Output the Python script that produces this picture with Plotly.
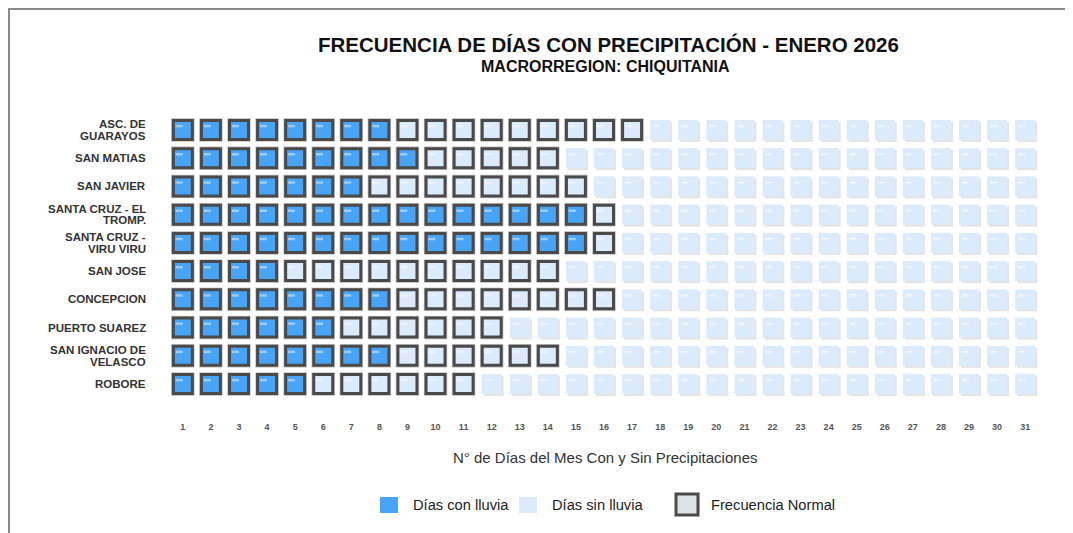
import plotly.graph_objects as go

# ---------------- data ----------------
stations = [
    "ASC. DE\nGUARAYOS",
    "SAN MATIAS",
    "SAN JAVIER",
    "SANTA CRUZ - EL\nTROMP.",
    "SANTA CRUZ -\nVIRU VIRU",
    "SAN JOSE",
    "CONCEPCION",
    "PUERTO SUAREZ",
    "SAN IGNACIO DE\nVELASCO",
    "ROBORE",
]
rain_days = [8, 9, 7, 15, 15, 4, 8, 6, 8, 5]
normal_days = [17, 14, 15, 16, 16, 14, 16, 12, 14, 11]
days = list(range(1, 32))
day_labels = [str(d) for d in days]

title_text = "FRECUENCIA DE DÍAS CON PRECIPITACIÓN - ENERO 2026"
subtitle_text = "MACRORREGION: CHIQUITANIA"
xaxis_title = "N° de Días del Mes Con y Sin Precipitaciones"
legend_labels = ["Días con lluvia", "Días sin lluvia", "Frecuencia Normal"]

# ---------------- layout constants ----------------
OX, OY = 8, 8            # page body margin
W, H = 1073 - OX, 533 - OY
L, R, T, B = 158, 31, 105, 132
PW, PH = W - L - R, H - T - B
XR = [0.4, 31.6]
YR = [len(stations) - 0.4, -0.6]
UX = PW / (XR[1] - XR[0])
UY = PH / (YR[0] - YR[1])

BLUE = "#48a4f6"
LIGHT = "#dcebfc"
BORDER = "#4a4a4a"
FONT = "Liberation Sans, Arial, sans-serif"


def px(xp):
    """page pixel x -> paper"""
    return (xp - OX - L) / PW


def py(yp):
    """page pixel y -> paper"""
    return (H - B - (yp - OY)) / PH


# ---------------- cells ----------------
blue_x, blue_y = [], []
norm_x, norm_y = [], []
plain_x, plain_y = [], []
for i, s in enumerate(stations):
    for d in days:
        if d <= rain_days[i]:
            blue_x.append(d); blue_y.append(i)
        elif d <= normal_days[i]:
            norm_x.append(d); norm_y.append(i)
        else:
            plain_x.append(d); plain_y.append(i)

bordered_x = blue_x + norm_x
bordered_y = blue_y + norm_y

sdx, sdy = 2.0 / UX, 2.0 / UY
hdx, hdy = -3.7 / UX, -3.9 / UY

fig = go.Figure()

fig.add_trace(go.Scatter(
    x=[v + sdx for v in plain_x], y=[v + sdy for v in plain_y], mode="markers",
    marker=dict(symbol="square", size=20, color="#e4e4e4", line=dict(width=0)),
    showlegend=False, hoverinfo="skip"))
fig.add_trace(go.Scatter(
    x=bordered_x, y=bordered_y, mode="markers",
    marker=dict(symbol="square", size=23.5, color="#c4c4c4", line=dict(width=0)),
    showlegend=False, hoverinfo="skip"))
fig.add_trace(go.Scatter(
    x=plain_x, y=plain_y, mode="markers",
    marker=dict(symbol="square", size=20, color=LIGHT, line=dict(width=0)),
    showlegend=False, hoverinfo="skip"))
fig.add_trace(go.Scatter(
    x=norm_x, y=norm_y, mode="markers",
    marker=dict(symbol="square", size=19, color=LIGHT, line=dict(width=3, color=BORDER)),
    showlegend=False, hoverinfo="skip"))
fig.add_trace(go.Scatter(
    x=blue_x, y=blue_y, mode="markers",
    marker=dict(symbol="square", size=19, color=BLUE, line=dict(width=3, color=BORDER)),
    showlegend=False, hoverinfo="skip"))
all_x = blue_x + norm_x + plain_x
all_y = blue_y + norm_y + plain_y
fig.add_trace(go.Scatter(
    x=[v + hdx for v in all_x], y=[v + hdy for v in all_y], mode="markers",
    marker=dict(symbol="line-ew", size=5, line=dict(width=2.5, color="rgba(255,255,255,0.45)")),
    showlegend=False, hoverinfo="skip"))

annotations = []
for i, s in enumerate(stations):
    lines = s.split("\n")
    n = len(lines)
    for k, ln in enumerate(lines):
        shift = ((n - 1) / 2.0 - k) * 11.5
        annotations.append(dict(
            text=ln, xref="paper", yref="y", x=0, y=i, xshift=-18, yshift=shift,
            xanchor="right", yanchor="middle", showarrow=False,
            font=dict(family=FONT, size=11.5, color="#333333", weight="bold")))

annotations.append(dict(text=title_text, xref="paper", yref="paper", x=px(608), y=py(44),
                         xanchor="center", yanchor="middle", showarrow=False,
                         font=dict(family=FONT, size=20.5, color="#111111", weight="bold")))
annotations.append(dict(text=subtitle_text, xref="paper", yref="paper", x=px(605), y=py(67),
                         xanchor="center", yanchor="middle", showarrow=False,
                         font=dict(family=FONT, size=16, color="#111111", weight="bold")))
annotations.append(dict(text=xaxis_title, xref="paper", yref="paper", x=px(605), y=py(457),
                         xanchor="center", yanchor="middle", showarrow=False,
                         font=dict(family=FONT, size=15, color="#333333")))

shapes = []
leg_boxes = [
    (380, 497, 398, 513, BLUE, 0),
    (519, 497, 537, 513, LIGHT, 0),
    (676, 494, 698, 515, "#dfe2e6", 3),
]
leg_text_x = [411, 550, 709]
for (x0, y0, x1, y1, col, lw), lab, tx in zip(leg_boxes, legend_labels, leg_text_x):
    shapes.append(dict(type="rect", xref="paper", yref="paper",
                       x0=px(x0), x1=px(x1), y0=py(y1), y1=py(y0),
                       fillcolor=col, line=dict(width=lw, color=BORDER)))
    annotations.append(dict(text=lab, xref="paper", yref="paper", x=px(tx), y=py(505),
                            xanchor="left", yanchor="middle", showarrow=False,
                            font=dict(family=FONT, size=14.7, color="#222222")))

shapes.append(dict(type="line", xref="paper", yref="paper",
                   x0=px(9), x1=px(9), y0=py(8), y1=py(540),
                   line=dict(color="#8a8a8a", width=2)))
shapes.append(dict(type="line", xref="paper", yref="paper",
                   x0=px(8), x1=px(1090), y0=py(9), y1=py(9),
                   line=dict(color="#8a8a8a", width=2)))

fig.update_layout(
    width=W, height=H,
    margin=dict(l=L, r=R, t=T, b=B),
    paper_bgcolor="white", plot_bgcolor="white",
    showlegend=False, hovermode=False,
    annotations=annotations, shapes=shapes,
    xaxis=dict(range=XR, tickvals=days, ticktext=day_labels, showgrid=False,
               zeroline=False, showline=False, ticks="", ticklabelstandoff=19,
               tickfont=dict(family=FONT, size=9, color="#555555", weight="bold"),
               fixedrange=True),
    yaxis=dict(range=YR, showgrid=False, zeroline=False, showline=False,
               showticklabels=False, ticks="", fixedrange=True),
)

fig.write_html("out.html", config={"displayModeBar": False})
